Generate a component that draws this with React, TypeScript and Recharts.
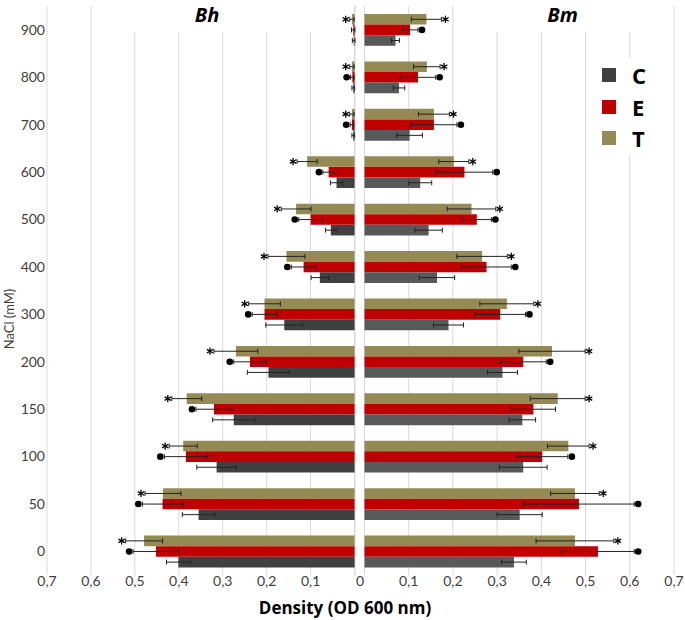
import React from 'react';
import { BarChart, Bar, XAxis, YAxis, CartesianGrid, ErrorBar, LabelList } from 'recharts';

// NaCl concentration (mM), bottom to top
const nacl = ['0', '50', '100', '150', '200', '300', '400', '500', '600', '700', '800', '900'];
const xTicks = [0, 0.1, 0.2, 0.3, 0.4, 0.5, 0.6, 0.7];

// Bh (left panel)
const bhC = [0.401, 0.355, 0.314, 0.275, 0.196, 0.16, 0.079, 0.054, 0.041, 0.003, 0.003, 0.002];
const bhCErr = [0.027, 0.037, 0.045, 0.048, 0.048, 0.042, 0.02, 0.012, 0.014, 0.003, 0.003, 0.003];
const bhE = [0.452, 0.437, 0.384, 0.32, 0.238, 0.205, 0.116, 0.1, 0.059, 0.006, 0.005, 0.003];
const bhEErr = [0.052, 0.046, 0.049, 0.041, 0.037, 0.028, 0.028, 0.027, 0.013, 0.004, 0.004, 0.004];
const bhT = [0.479, 0.436, 0.39, 0.382, 0.27, 0.205, 0.155, 0.133, 0.108, 0.006, 0.006, 0.006];
const bhTErr = [0.042, 0.041, 0.032, 0.034, 0.05, 0.036, 0.042, 0.034, 0.023, 0.005, 0.005, 0.005];
const bhEDot = [1, 1, 1, 1, 1, 1, 1, 1, 1, 1, 1, 0];

// Bm (right panel)
const bmC = [0.338, 0.351, 0.359, 0.357, 0.312, 0.19, 0.164, 0.145, 0.126, 0.102, 0.078, 0.07];
const bmCErr = [0.028, 0.051, 0.054, 0.03, 0.034, 0.034, 0.04, 0.031, 0.026, 0.029, 0.013, 0.009];
const bmE = [0.528, 0.485, 0.402, 0.382, 0.359, 0.307, 0.276, 0.254, 0.226, 0.157, 0.121, 0.103];
const bmEErr = [0.082, 0.125, 0.058, 0.05, 0.052, 0.057, 0.056, 0.033, 0.064, 0.052, 0.04, 0.018];
const bmT = [0.476, 0.476, 0.461, 0.437, 0.424, 0.322, 0.266, 0.242, 0.202, 0.157, 0.141, 0.14];
const bmTErr = [0.088, 0.055, 0.047, 0.062, 0.075, 0.061, 0.057, 0.055, 0.034, 0.035, 0.03, 0.034];
const bmEDot = [1, 1, 1, 0, 1, 1, 1, 1, 1, 1, 1, 1];

const bhRows = nacl.map((n, i) => ({
  nacl: n, C: bhC[i], cErr: bhCErr[i], E: bhE[i], eErr: bhEErr[i], T: bhT[i], tErr: bhTErr[i], eDot: bhEDot[i], tStar: 1,
}));
const bmRows = nacl.map((n, i) => ({
  nacl: n, C: bmC[i], cErr: bmCErr[i], E: bmE[i], eErr: bmEErr[i], T: bmT[i], tErr: bmTErr[i], eDot: bmEDot[i], tStar: 1,
}));

const FONT = 'Lato, "Open Sans", sans-serif';
const GRID = '#d9d9d9';
const TXT = '#404040';
const RED = '#c00000';
const OLIVE = '#948a54';

const fmt = (v: number) => String(v).replace('.', ',');

// marker (dot or asterisk) just past the end of the error bar
const marker = (rows: any[], key: string, errKey: string, flagKey: string, kind: 'dot' | 'star', side: 'left' | 'right') =>
  (props: any) => {
    const row = rows[props.index];
    if (!row || !row[flagKey]) return null;
    const vb = props.viewBox ?? props;
    const x = Number(vb.x), y = Number(vb.y), w = Number(vb.width), h = Number(vb.height);
    const wAbs = Math.abs(w);
    const dir = side === 'left' ? -1 : 1;
    const outer = side === 'left' ? Math.min(x, x + w) : Math.max(x, x + w);
    const pxPer = row[key] > 0 ? wAbs / row[key] : 0;
    const cx = outer + dir * (row[errKey] * pxPer + 4);
    const cy = y + Math.abs(h) / 2;
    if (kind === 'dot') return <circle cx={cx} cy={cy} r={3.3} fill="#000" />;
    const r = 3.6;
    return (
      <g stroke="#000" strokeWidth={1.3}>
        <line x1={cx} y1={cy - r} x2={cx} y2={cy + r} />
        <line x1={cx - r * 0.87} y1={cy - r / 2} x2={cx + r * 0.87} y2={cy + r / 2} />
        <line x1={cx - r * 0.87} y1={cy + r / 2} x2={cx + r * 0.87} y2={cy - r / 2} />
      </g>
    );
  };

const LeftTick = (props: any) => {
  const { x, y, payload } = props;
  const dx = payload.value === 0 ? 5.5 : 0;
  return (
    <text x={x + dx} y={y} dy={10} textAnchor="middle" fill={TXT} fontSize={14} fontFamily={FONT}>
      {fmt(payload.value)}
    </text>
  );
};

const RightTick = (props: any) => {
  const { x, y, payload } = props;
  if (payload.value === 0) return null;
  return (
    <text x={x} y={y} dy={10} textAnchor="middle" fill={TXT} fontSize={14} fontFamily={FONT}>
      {fmt(payload.value)}
    </text>
  );
};

const errProps = { direction: 'x' as const, width: 2.5, stroke: '#222', strokeWidth: 1 };

const Panel = ({ rows, side, cColor }: { rows: any[]; side: 'left' | 'right'; cColor: string }) => {
  const left = side === 'left';
  return (
    <BarChart
      width={left ? 370 : 325}
      height={620}
      data={rows}
      layout="vertical"
      barSize={10.6}
      barGap={0}
      margin={left ? { top: 6, right: 15, left: 0, bottom: 0 } : { top: 6, right: 11, left: 4.5, bottom: 0 }}
    >
      <CartesianGrid horizontal={false} stroke={GRID} />
      <XAxis
        type="number"
        domain={[0, 0.7]}
        ticks={xTicks}
        reversed={left}
        height={45}
        tickLine={false}
        axisLine={false}
        tickSize={0}
        tickMargin={1}
        tick={left ? <LeftTick /> : <RightTick />}
        interval={0}
      />
      <YAxis
        type="category"
        dataKey="nacl"
        reversed
        hide={!left}
        width={left ? 47 : 0}
        tickLine={false}
        axisLine={false}
        tickSize={0}
        tickMargin={2}
        interval={0}
        tick={{ fill: TXT, fontSize: 14, fontFamily: FONT }}
      />
      <Bar dataKey="T" fill={OLIVE} isAnimationActive={false}>
        <ErrorBar dataKey="tErr" {...errProps} />
        <LabelList dataKey="T" content={marker(rows, 'T', 'tErr', 'tStar', 'star', side)} />
      </Bar>
      <Bar dataKey="E" fill={RED} isAnimationActive={false}>
        <ErrorBar dataKey="eErr" {...errProps} />
        <LabelList dataKey="E" content={marker(rows, 'E', 'eErr', 'eDot', 'dot', side)} />
      </Bar>
      <Bar dataKey="C" fill={cColor} isAnimationActive={false}>
        <ErrorBar dataKey="cErr" {...errProps} />
      </Bar>
    </BarChart>
  );
};

const legendItems = [
  { name: 'C', color: '#404040' },
  { name: 'E', color: RED },
  { name: 'T', color: OLIVE },
];

const titleStyle: React.CSSProperties = {
  position: 'absolute', top: 0, height: 32, background: '#fff', textAlign: 'center',
  fontSize: 20, fontWeight: 700, fontStyle: 'italic', lineHeight: '29px', color: '#000',
  fontFamily: '"Open Sans", sans-serif',
};

export default function App() {
  return (
    <div style={{ position: 'absolute', left: 0, top: 0, width: 685, height: 620, background: '#fff', fontFamily: FONT }}>
      <div style={{ position: 'absolute', left: 0, top: 0 }}>
        <Panel rows={bhRows} side="left" cColor="#404040" />
      </div>
      <div style={{ position: 'absolute', left: 360, top: 0 }}>
        <Panel rows={bmRows} side="right" cColor="#595959" />
      </div>

      {/* panel titles */}
      <div style={{ ...titleStyle, left: 92, width: 230 }}>Bh</div>
      <div style={{ ...titleStyle, left: 470, width: 185 }}>Bm</div>

      {/* legend */}
      <div style={{ position: 'absolute', left: 590, top: 58, width: 70, height: 97, background: '#fff' }}>
        {legendItems.map((it, i) => (
          <div key={it.name} style={{ position: 'absolute', left: 12, top: 10 + i * 31.5, display: 'flex', alignItems: 'center', height: 14 }}>
            <div style={{ width: 14, height: 14, background: it.color }} />
            <span style={{ marginLeft: 16, fontSize: 22, fontWeight: 700, color: '#000', fontFamily: '"Open Sans", sans-serif' }}>{it.name}</span>
          </div>
        ))}
      </div>

      {/* axis titles */}
      <div style={{ position: 'absolute', left: 9, top: 319, transform: 'translate(-50%, -50%) rotate(-90deg)', whiteSpace: 'nowrap', fontSize: 13, color: TXT }}>
        NaCl (mM)
      </div>
      <div style={{ position: 'absolute', left: 345, top: 607, transform: 'translate(-50%, -50%)', whiteSpace: 'nowrap', fontSize: 17, fontWeight: 700, color: '#000', fontFamily: '"Open Sans", sans-serif' }}>
        Density (OD 600 nm)
      </div>
    </div>
  );
}
